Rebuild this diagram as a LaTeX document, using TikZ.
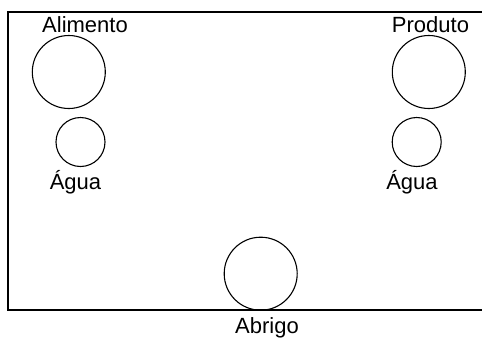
\documentclass[tikz,border=0pt]{standalone}
\usepackage{fontspec}
\setmainfont{Liberation Sans}

\begin{document}
\begin{tikzpicture}[x = 1pt, y = -1pt, line width = 1.1pt, font=\fontsize{22}{26}\selectfont]
	\tikzstyle{bigStyle}=[shape = circle, minimum size = 73pt, inner sep = 0pt, draw]
	\tikzstyle{smallStyle}=[shape = circle, minimum size = 49pt, inner sep = 0pt, draw]
	\tikzstyle{labelStyle}=[anchor = base, inner sep = 0pt]
	\useasboundingbox (0,0) rectangle (482,338);
	% frame, open on the right
	\draw (482,12) -- (8,12) -- (8,310) -- (482,310);
	% circles
	\node[bigStyle] (alimento) at (68.8,72) {};
	\node[smallStyle] (aguaL) at (80.5,142) {};
	\node[bigStyle] (produto) at (428.8,72) {};
	\node[smallStyle] (aguaR) at (416.7,142) {};
	\node[bigStyle] (abrigo) at (260.7,273.7) {};
	% labels
	\node[labelStyle] (alimentoLabel) at (85,32) {Alimento};
	\node[labelStyle] (aguaLLabel) at (75.5,189) {Água};
	\node[labelStyle] (produtoLabel) at (430.5,32) {Produto};
	\node[labelStyle] (aguaRLabel) at (412,189) {Água};
	\node[labelStyle] (abrigoLabel) at (267,333) {Abrigo};
\end{tikzpicture}
\end{document}
